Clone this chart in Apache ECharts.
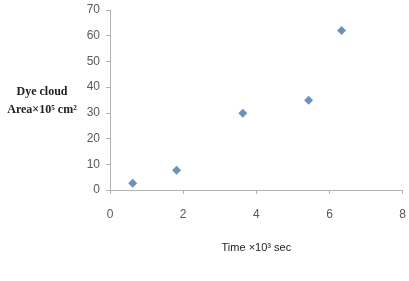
<!DOCTYPE html>
<html>
<head>
<meta charset="utf-8">
<script src="https://cdn.jsdelivr.net/npm/echarts@6/dist/echarts.min.js"></script>
<style>html,body{margin:0;padding:0;background:#fff}#main{width:409px;height:281px}</style>
</head>
<body>
<div id="main"></div>
<script>
// time (x10^3 sec) vs dye cloud area (x10^5 cm^2)
var timeVals = [0.62, 1.82, 3.63, 5.43, 6.33];
var areaVals = [2.6, 7.7, 29.8, 34.9, 62];
var xTicks = [0, 2, 4, 6, 8];
var yTicks = [0, 10, 20, 30, 40, 50, 60, 70];

var points = [];
for (var i = 0; i < timeVals.length; i++) {
    points.push([timeVals[i], areaVals[i]]);
}

var myChart = echarts.init(document.getElementById('main'));
var axisGrey = '#b3b3b3';
var option = {
    backgroundColor: '#ffffff',
    animation: false,
    grid: { left: 110, right: 6, top: 10, bottom: 91 },
    xAxis: {
        type: 'value',
        min: xTicks[0], max: xTicks[xTicks.length - 1], interval: 2,
        name: 'Time ×10³ sec',
        nameLocation: 'middle',
        nameGap: 52,
        nameTextStyle: { fontFamily: 'Liberation Sans', fontSize: 11, color: '#222' },
        axisLine: { lineStyle: { color: axisGrey } },
        axisTick: { show: true, length: 4, lineStyle: { color: axisGrey } },
        axisLabel: { color: '#595959', fontSize: 12, margin: 19, fontFamily: 'Liberation Sans' },
        splitLine: { show: false }
    },
    yAxis: {
        type: 'value',
        min: yTicks[0], max: yTicks[yTicks.length - 1], interval: 10,
        axisLine: { show: true, lineStyle: { color: axisGrey } },
        axisTick: { show: true, length: 4, lineStyle: { color: axisGrey } },
        axisLabel: { color: '#595959', fontSize: 12, margin: 10, fontFamily: 'Liberation Sans' },
        splitLine: { show: false }
    },
    graphic: [{
        type: 'text',
        x: 42, y: 83,
        style: {
            text: 'Dye cloud\nArea×10⁵ cm²',
            align: 'center',
            font: 'bold 12px "Liberation Serif"',
            fill: '#222',
            lineHeight: 18
        }
    }],
    series: [{
        type: 'scatter',
        symbol: 'diamond',
        symbolSize: 9,
        itemStyle: { color: '#4a76a8' },
        data: points
    }]
};
myChart.setOption(option);
</script>
</body>
</html>
